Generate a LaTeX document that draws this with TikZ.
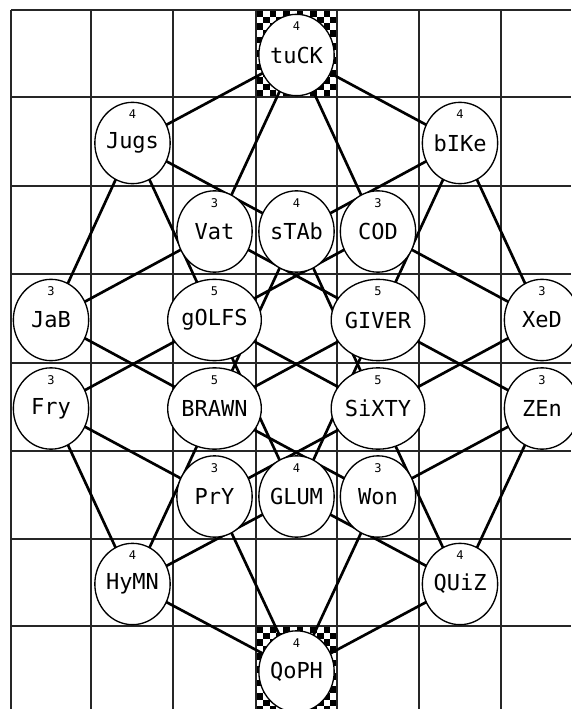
\documentclass[tikz,border=0pt]{standalone}
\usepackage{fontspec}
\newfontfamily\monof{DejaVu Sans Mono}
\usetikzlibrary{shapes.geometric}
\pgfdeclarelayer{gridlayer}
\pgfdeclarelayer{edgelayer}
\pgfsetlayers{gridlayer,edgelayer,main}
\tikzset{
  vtx/.style={ellipse, draw=black, line width=1pt, fill=white, inner sep=0pt,
    minimum width=56.5pt, minimum height=61pt, font=\monof\fontsize{16.5}{18}\selectfont},
  deglab/.style={inner sep=0pt, font=\monof\fontsize{9}{10}\selectfont},
  gridline/.style={black!85, line width=1.3pt},
  edge/.style={black, line width=2pt},
  chk/.style={fill=black}
}
\newcommand\vtx[4]{%
  \node[vtx] (#1) at (#2,#3+1.5) {#1};
  \node[deglab] (#1-d) at (#2,#3-27) {#4};
}
\begin{document}
\begin{tikzpicture}[x=0.75pt,y=-0.75pt]
\useasboundingbox (0,0) rectangle (571,709);
% vertices
\vtx{tuCK}{296.5}{53.5}{4}
\vtx{Jugs}{132.5}{141.5}{4}
\vtx{bIKe}{460}{141.5}{4}
\vtx{Vat}{214.5}{230}{3}
\vtx{sTAb}{296.5}{230}{4}
\vtx{COD}{378}{230}{3}
\vtx{JaB}{51}{318.5}{3}
\vtx{gOLFS}{214.5}{318.5}{5}
\vtx{GIVER}{378}{318.5}{5}
\vtx{XeD}{542}{318.5}{3}
\vtx{Fry}{51}{407}{3}
\vtx{BRAWN}{214.5}{407}{5}
\vtx{SiXTY}{378}{407}{5}
\vtx{ZEn}{542}{407}{3}
\vtx{PrY}{214.5}{495}{3}
\vtx{GLUM}{296.5}{495}{4}
\vtx{Won}{378}{495}{3}
\vtx{HyMN}{132.5}{582.5}{4}
\vtx{QUiZ}{460}{582.5}{4}
\vtx{QoPH}{296.5}{670}{4}
% grid and checkerboards
\begin{pgfonlayer}{gridlayer}
  \foreach \i in {0,...,11} \foreach \j in {0,...,12} {
    \pgfmathtruncatemacro\chkpar{mod(\i+\j,2)}
    \ifnum\chkpar=0
      \fill[chk] (256+\i*6.75,10+\j*6.7) rectangle +(6.75,6.7);
      \fill[chk] (256+\i*6.75,626+\j*6.7) rectangle +(6.75,6.7);
    \fi
  }
  \foreach \x in {11,91,173,256,337,419,501}
    \draw[gridline] (\x,10) -- (\x,709);
  \foreach \y in {10,97,186,274,363,451,539,626}
    \draw[gridline] (11,\y) -- (571,\y);
\end{pgfonlayer}
% edges
\begin{pgfonlayer}{edgelayer}
  \foreach \a/\b in {tuCK/Jugs, tuCK/bIKe, tuCK/Vat, tuCK/COD,
    Jugs/sTAb, Jugs/JaB, Jugs/gOLFS,
    bIKe/sTAb, bIKe/GIVER, bIKe/XeD,
    Vat/JaB, Vat/GIVER, COD/XeD, COD/gOLFS,
    sTAb/BRAWN, sTAb/SiXTY, JaB/BRAWN,
    gOLFS/Fry, gOLFS/SiXTY, gOLFS/GLUM,
    GIVER/ZEn, GIVER/BRAWN, GIVER/GLUM, XeD/SiXTY,
    Fry/HyMN, Fry/PrY, BRAWN/HyMN, BRAWN/Won,
    SiXTY/QUiZ, SiXTY/PrY, ZEn/QUiZ, ZEn/Won,
    PrY/QoPH, Won/QoPH, GLUM/HyMN, GLUM/QUiZ,
    HyMN/QoPH, QUiZ/QoPH}
    \draw[edge] (\a.center) -- (\b.center);
\end{pgfonlayer}
\end{tikzpicture}
\end{document}
